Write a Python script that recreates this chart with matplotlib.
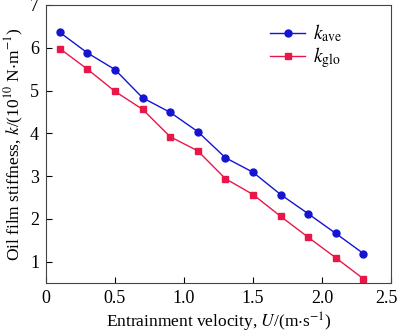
import matplotlib
matplotlib.use('Agg')
import matplotlib.pyplot as plt
import matplotlib.transforms as mtransforms

# entrainment velocity and oil film stiffness values
velocity = [0.1, 0.3, 0.5, 0.7, 0.9, 1.1, 1.3, 1.5, 1.7, 1.9, 2.1, 2.3]
k_ave = [6.36, 5.88, 5.49, 4.83, 4.49, 4.04, 3.43, 3.09, 2.57, 2.12, 1.66, 1.19]
k_glo = [5.98, 5.50, 4.98, 4.56, 3.92, 3.59, 2.94, 2.57, 2.06, 1.57, 1.09, 0.60]
x_ticks = [0, 0.5, 1.0, 1.5, 2.0, 2.5]
x_labels = ['0', '0.5', '1.0', '1.5', '2.0', '2.5']
y_ticks = [1, 2, 3, 4, 5, 6, 7]

plt.rcParams['font.family'] = ['Liberation Serif', 'DejaVu Serif']
plt.rcParams['mathtext.fontset'] = 'stix'

fig = plt.figure(figsize=(4, 3.33), dpi=100)
ax = fig.add_axes([0.115, 0.15, 0.8625, 0.835])

ax.plot(velocity, k_ave, color='#1414d2', marker='o', markersize=5, linewidth=1, label=r'$k_{\mathrm{ave}}$')
ax.plot(velocity, k_glo, color='#e8174a', marker='s', markersize=5, linewidth=1, label=r'$k_{\mathrm{glo}}$')

ax.set_xlim(0, 2.5)
ax.set_ylim(0.5, 7)
ax.set_xticks(x_ticks)
ax.set_xticklabels(x_labels)
ax.set_yticks(y_ticks)
ax.tick_params(direction='in', labelsize=13, length=4, width=0.8, pad=5)
for s in ax.spines.values():
    s.set_color('#444444')

# last tick label sits at the figure edge, nudge it in so it stays visible
last = ax.get_xticklabels()[-1]
last.set_transform(last.get_transform() + mtransforms.ScaledTranslation(-5 / 100, 0, fig.dpi_scale_trans))

ax.set_xlabel(r'Entrainment velocity, $U$/(m$\cdot$s$^{-1}$)', fontsize=12.5, labelpad=3)
ax.set_ylabel(r'Oil film stiffness, $k$/(10$^{10}$ N$\cdot$m$^{-1}$)', fontsize=12.5, labelpad=3)

ax.legend(loc='upper right', frameon=False, fontsize=14, handlelength=1.8,
          handletextpad=0.4, labelspacing=0.05, bbox_to_anchor=(0.91, 1.0))

fig.savefig('out.png', dpi=100)
